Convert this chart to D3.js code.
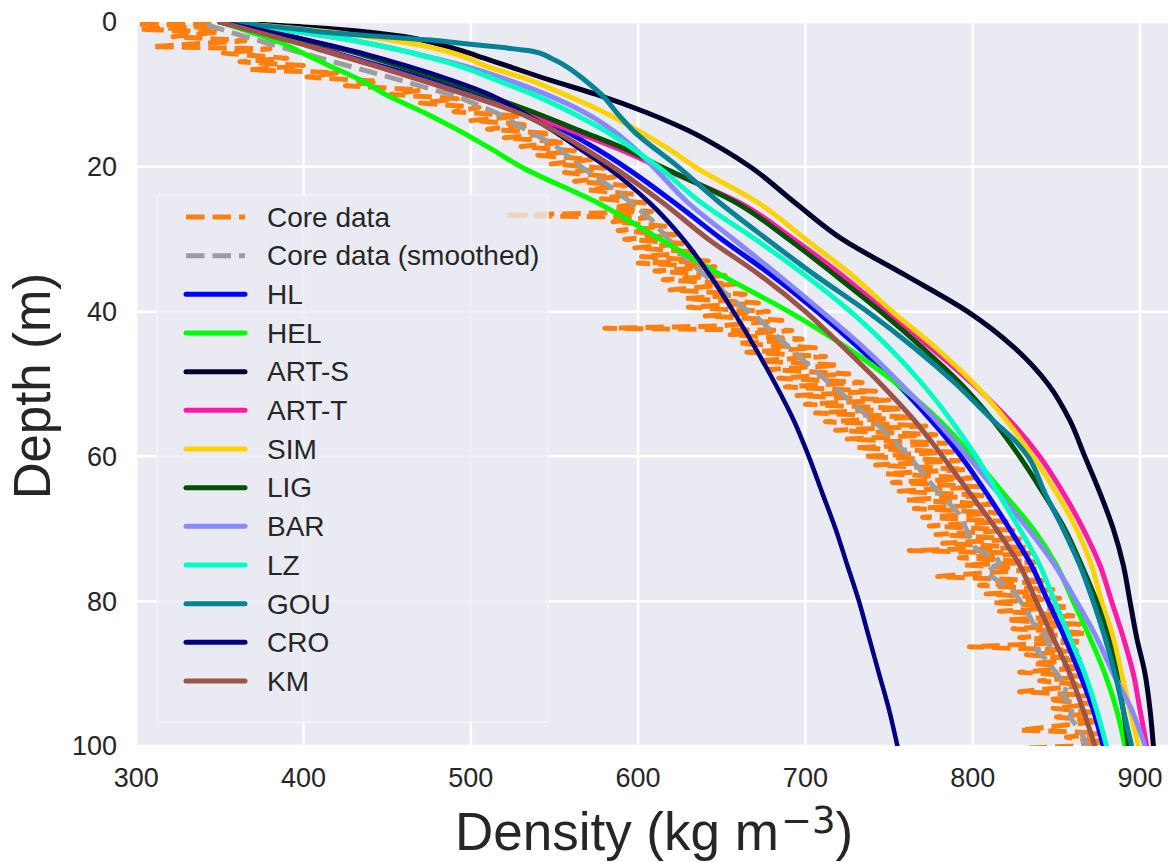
<!DOCTYPE html>
<html><head><meta charset="utf-8">
<script src="https://cdn.jsdelivr.net/npm/d3@7"></script>
<style>body{margin:0;background:#fff}svg{display:block;font-family:Arial,"Liberation Sans",sans-serif}</style>
</head><body><svg id="c" width="1168" height="862"></svg>
<script>
// ---------- data ----------
const xTicks = [300,400,500,600,700,800,900];
const yTicks = [0,20,40,60,80,100];
const legendLabels = ["Core data","Core data (smoothed)","HL","HEL","ART-S","ART-T","SIM","LIG","BAR","LZ","GOU","CRO","KM"];

const coreDepth = [0.1,0.3,0.6,1.0,1.4,2.0,2.6,3.4,3.7,4.3,5.0,5.5,6.0,6.6,7.0,7.6,8.2,8.8,9.4,10.0,10.6,11.2,11.8,12.4,13.0,13.6,14.2,14.8,15.4,16.0,16.6,17.2,17.8,18.4,19.0,19.6,20.2,20.8,21.4,22.0,22.6,23.2,23.8,24.4,25.0,25.6,26.2,26.7,27.0,27.6,28.2,28.8,29.4,30.0,30.6,31.2,31.8,32.4,33.0,33.3,33.8,34.4,35.0,35.6,36.2,37.0,37.6,38.2,38.8,39.4,40.0,40.6,41.2,42.0,42.3,42.6,43.2,43.8,44.4,45.0,45.6,46.2,46.8,47.4,48.0,48.6,49.2,49.8,50.4,51.0,51.6,52.2,52.8,53.4,54.0,54.6,55.2,55.8,56.4,57.0,57.6,58.2,58.8,59.4,60.0,60.6,61.2,61.8,62.4,63.0,63.6,64.2,64.8,65.4,66.0,66.6,67.2,67.8,68.4,69.0,69.6,70.2,70.8,71.4,72.0,72.6,73.0,73.4,74.0,74.6,75.0,75.6,76.2,76.6,77.2,77.8,78.4,79.0,79.6,80.2,80.8,81.4,82.0,82.6,83.2,83.8,84.4,85.0,85.6,86.3,86.8,87.4,88.0,88.6,89.2,89.8,90.4,91.0,91.6,92.5,93.0,93.6,94.2,94.8,95.4,96.0,96.6,97.2,97.8,98.2,98.8,99.4,100.0,100.3];
const coreRho = [345,300,348,302,350,322,365,309,380,352,390,362,400,368,420,402,445,425,470,452,492,470,505,490,530,500,535,510,548,520,556,530,562,540,572,548,580,556,586,562,593,570,598,578,604,585,608,520,
  606,585,616,588,622,592,628,598,635,602,642,600,646,610,652,615,658,619,664,628,672,630,678,640,686,648,580,692,655,698,
  660,706,665,712,672,720,678,726,684,734,688,742,695,750,700,758,706,765,712,772,718,778,725,784,730,788,735,792,742,796,
  748,800,752,804,756,808,760,812,765,816,770,820,774,824,778,828,782,832,762,834,792,838,795,840,800,779,844,804,848,808,
  852,812,858,816,860,820,864,824,868,828,866,798,862,832,864,836,866,828,866,840,868,828,870,845,872,848,874,850,876,852,
  828,878,856,878,860,830];

const smoothDepth = [0.4,2.9,5,6.9,8.5,10.3,12.5,14.5,17,20,23.5,27.3,30,33,36,38.4,41,44.9,48,52,56,60,64,68,72.9,73.9,74.7,76.1,78.5,81.2,83,84,86.3,86.7,88.1,90.5,91.8,93.2,94.6,96,97.8,99.6,100.3];
const smoothRho = [342,378,410,440,465,492,515,530,550,566,588,608,618,630,645,657,672,690,705,725,745,762,776,792,802,814,816,808,824,832,836,842,846,838,844,852,856,854,860,858,864,868,860];

const modelDepth = [0,1,2,3,4,5,6,8,10,12.5,15,17.5,20,25,30,35,40,45,50,55,60,65,70,75,80,85,90,95,100];
const HL    = [350,367,384,400,415,430,445,475,503,533,556,575,592,622,650,680,707,732,755,775,793,808,822,835,845,855,864,872,878];
const HEL   = [350,363,376,388,397,406,415,434,449,472,493,512,530,576,613,650,690,725,755,780,800,818,836,850,860,870,879,886,891];
const ART_S = [350,420,460,480,495,508,521,547,575,605,630,650,667,694,722,760,797,825,845,858,867,876,884,890,894,898,903,906,908];
const ART_T = [350,368,385,400,414,428,442,470,497,530,560,588,612,661,693,722,748,775,800,822,840,854,866,876,883,890,896,900,904];
const SIM   = [350,400,438,465,485,498,508,535,556,580,600,618,634,672,700,728,752,778,801,820,836,850,862,871,877,884,889,894,899];
const LIG   = [350,372,392,410,427,442,456,483,508,538,565,592,614,659,690,718,745,770,793,812,828,842,855,865,874,881,886,890,893];
const BAR   = [350,385,415,440,460,478,495,522,545,568,585,598,609,630,657,684,710,735,757,778,797,815,833,849,862,874,884,895,903];
const LZ    = [350,385,416,440,460,477,492,515,537,560,580,597,612,638,670,700,727,750,770,787,802,815,828,840,849,858,867,874,880];
const CRO   = [350,372,393,412,430,446,461,488,511,531,549,565,581,607,627,643,657,670,682,693,702,710,718,725,732,738,744,750,755];
const KM    = [350,366,382,398,412,427,442,470,497,528,550,568,585,615,642,673,700,723,745,765,782,798,814,828,838,848,858,866,873];
const gouDepth = [0,0.5,1,1.5,2,2.5,3,3.5,4,5,6,8,10,13,15,20,25,30,35,40,45,50,55,58,60,65,70,75,80,85,90,95,100];
const GOU   = [350,375,397,416,446,476,497,518,536,548,556,568,578,589,597,624,649,677,706,737,765,790,812,826,833,843,854,864,872,879,885,890,895];

// ---------- styles ----------
const series = [
  {name:"Core data", d:coreDepth, v:coreRho, color:"#ff7f0e", dash:"18.5,8", w:5, curve:d3.curveLinear},
  {name:"Core data (smoothed)", d:smoothDepth, v:smoothRho, color:"#9d9d9d", dash:"18.5,8", w:5, curve:d3.curveLinear},
  {name:"HL", d:modelDepth, v:HL, color:"#0000ff"},
  {name:"HEL", d:modelDepth, v:HEL, color:"#00ff00"},
  {name:"ART-S", d:modelDepth, v:ART_S, color:"#00002a"},
  {name:"ART-T", d:modelDepth, v:ART_T, color:"#ff1aa8"},
  {name:"SIM", d:modelDepth, v:SIM, color:"#ffd200"},
  {name:"LIG", d:modelDepth, v:LIG, color:"#005200"},
  {name:"BAR", d:modelDepth, v:BAR, color:"#8888ff"},
  {name:"LZ", d:modelDepth, v:LZ, color:"#00ffc4"},
  {name:"GOU", d:gouDepth, v:GOU, color:"#048296"},
  {name:"CRO", d:modelDepth, v:CRO, color:"#000080", w:4.5},
  {name:"KM", d:modelDepth, v:KM, color:"#9e5349"}
];

const svg = d3.select("#c");
const pLeft = 136.2, pTop = 22, pBottom = 746;
const x = d3.scaleLinear().domain([300, 918]).range([pLeft, pLeft + 618*1.673]);
const y = d3.scaleLinear().domain([0, 100]).range([pTop, pBottom]);
const txt = "#262626";
const pW = x(918) - pLeft, pH = pBottom - pTop;

svg.append("defs").append("clipPath").attr("id","clip")
  .append("rect").attr("x", pLeft).attr("y", pTop).attr("width", pW).attr("height", pH);

svg.append("rect").attr("x", pLeft).attr("y", pTop).attr("width", pW).attr("height", pH).attr("fill","#eaeaf2");

const grid = svg.append("g");
grid.selectAll(".gx").data(xTicks).join("line").attr("class","gx")
  .attr("x1", d=>x(d)).attr("x2", d=>x(d)).attr("y1", pTop).attr("y2", pBottom)
  .attr("stroke","#fff").attr("stroke-width",2.6);
grid.selectAll(".gy").data(yTicks).join("line").attr("class","gy")
  .attr("y1", d=>y(d)).attr("y2", d=>y(d)).attr("x1", pLeft).attr("x2", x(918))
  .attr("stroke","#fff").attr("stroke-width",2.6);

const plot = svg.append("g").attr("clip-path","url(#clip)");
series.forEach(s => {
  const pts = s.d.map((d,i)=>[s.v[i], d]);
  const line = d3.line().x(p=>x(p[0])).y(p=>y(p[1])).curve(s.curve || d3.curveMonotoneY);
  plot.append("path").attr("d", line(pts)).attr("fill","none")
    .attr("stroke", s.color).attr("stroke-width", s.w || 5)
    .attr("stroke-dasharray", s.dash || null)
    .attr("stroke-linecap", s.dash ? "butt" : "round")
    .attr("stroke-linejoin","round");
});

// tick labels
svg.append("g").selectAll("text").data(xTicks).join("text")
  .attr("x", d=>x(d)).attr("y", 787).attr("text-anchor","middle")
  .attr("font-size", 27).attr("fill", txt).text(d=>d);
svg.append("g").selectAll("text").data(yTicks).join("text")
  .attr("x", 117).attr("y", d=>y(d)).attr("dy","0.35em").attr("text-anchor","end")
  .attr("font-size", 27).attr("fill", txt).text(d=>d);

// axis labels
svg.append("text").attr("transform","translate(50,386) rotate(-90)")
  .attr("text-anchor","middle").attr("font-size",51).attr("fill",txt).text("Depth (m)");
const xl = svg.append("text").attr("x", 654).attr("y", 850).attr("text-anchor","middle")
  .attr("font-size",53).attr("fill",txt);
xl.append("tspan").text("Density (kg m");
xl.append("tspan").attr("font-size",37).attr("font-family","'DejaVu Sans'").attr("dy",-17).attr("dx",2).text("\u22123");
xl.append("tspan").attr("dy",17).text(")");

// legend
const lg = svg.append("g");
lg.append("rect").attr("x",157).attr("y",195).attr("width",391).attr("height",527)
  .attr("fill","#eaeaf2").attr("fill-opacity",0.8).attr("stroke","#f3f3f7").attr("stroke-width",1.5).attr("rx",3);
series.forEach((s,i) => {
  const yy = 217 + i*38.67;
  lg.append("line").attr("x1",186).attr("x2",245).attr("y1",yy).attr("y2",yy)
    .attr("stroke",s.color).attr("stroke-width",5)
    .attr("stroke-dasharray", s.dash || null)
    .attr("stroke-linecap", s.dash ? "butt" : "round");
  lg.append("text").attr("x",267).attr("y",yy).attr("dy","0.35em")
    .attr("font-size",28).attr("fill",txt).text(legendLabels[i]);
});
</script></body></html>
